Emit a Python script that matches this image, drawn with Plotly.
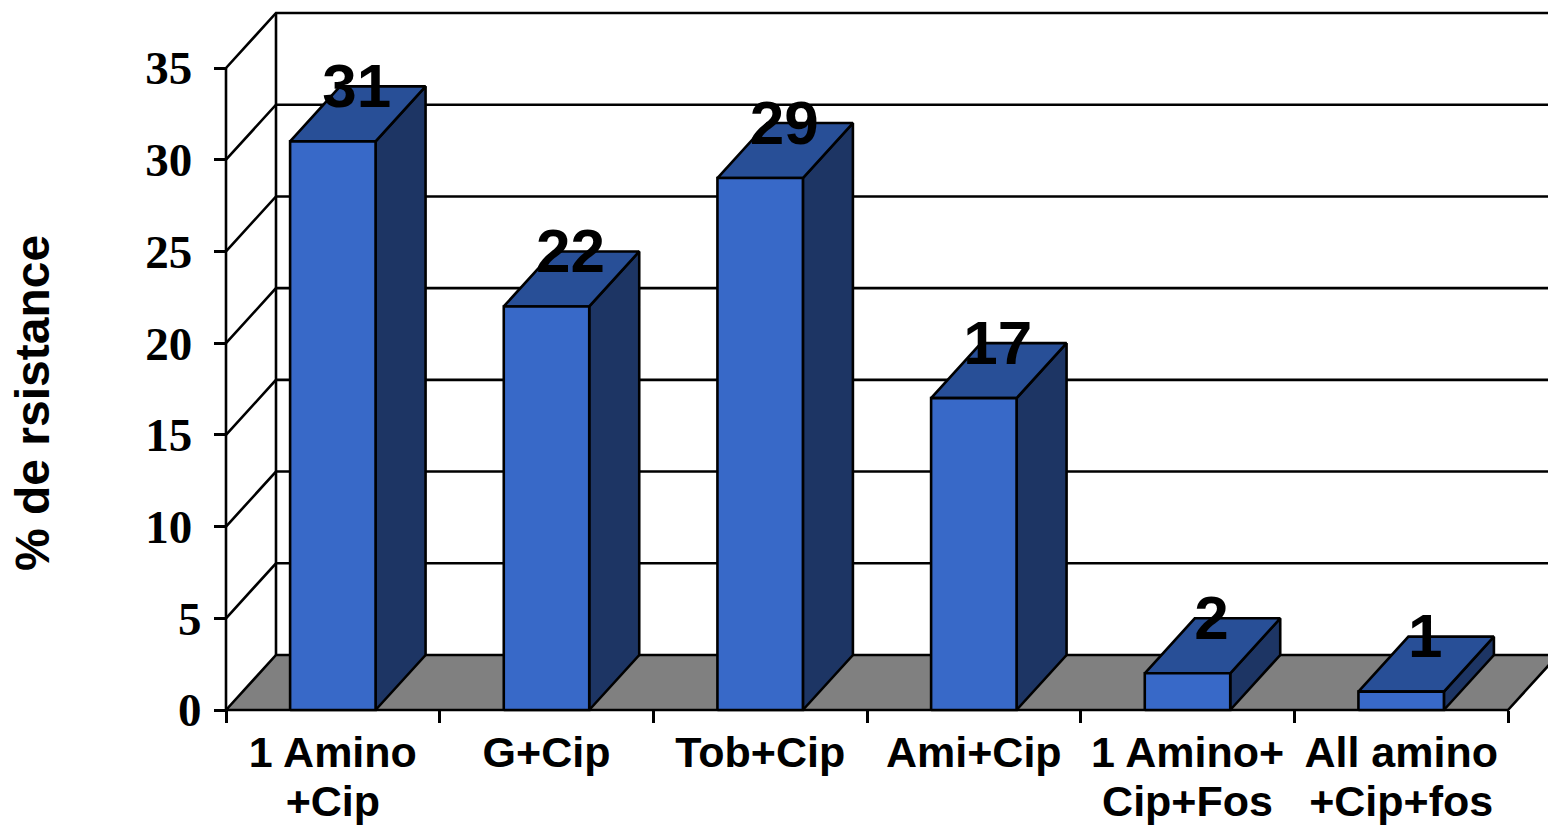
import plotly.graph_objects as go

# Chart content
line_one = ["1 Amino", "G+Cip", "Tob+Cip", "Ami+Cip", "1 Amino+", "All amino"]
line_two = ["+Cip", "", "", "", "Cip+Fos", "+Cip+fos"]
resistance = [31, 22, 29, 17, 2, 1]
value_ticks = [0, 5, 10, 15, 20, 25, 30, 35]
axis_title = "% de rsistance"

# Page geometry of the pseudo-3D plot box
WIDTH, HEIGHT = 1548, 825
LEFT_PX, BASE_PX = 226, 710
UNIT_X_PX = (1508 - 226) / 6
UNIT_Y_PX = (710 - 68) / 35
DEPTH_X = 50 / UNIT_X_PX
DEPTH_Y = 55 / UNIT_Y_PX
BAR_WIDTH = 0.40

FRONT, TOP, SIDE = "#3869C8", "#284F97", "#1D3564"
FLOOR = "#808080"
SANS = "Liberation Sans"
SERIF = "Liberation Serif"
LINE_W = 2.6
THIN_SPACE = "\u2009"

fig = go.Figure()


def polygon(xs, ys, fill=None, width=LINE_W):
    fig.add_trace(go.Scatter(
        x=xs, y=ys, mode="lines",
        fill="toself" if fill else None,
        fillcolor=fill,
        line=dict(color="black", width=width),
        hoverinfo="skip", showlegend=False,
    ))


# Back wall gridlines and the diagonals on the left wall
top_value = value_ticks[-1]
n = len(resistance)
far_right = (WIDTH - LEFT_PX) / UNIT_X_PX + 0.5
for v in value_ticks[1:]:
    polygon([0, DEPTH_X, far_right], [v, v + DEPTH_Y, v + DEPTH_Y])
polygon([0, 0], [0, top_value])
polygon([DEPTH_X, DEPTH_X], [DEPTH_Y, top_value + DEPTH_Y])

# Floor
polygon([0, n, n + DEPTH_X, DEPTH_X, 0], [0, 0, DEPTH_Y, DEPTH_Y, 0], fill=FLOOR)

# Bars: side face, top face, front face
for i, v in enumerate(resistance):
    x0 = i + 0.5 - BAR_WIDTH / 2
    x1 = i + 0.5 + BAR_WIDTH / 2
    polygon([x1, x1 + DEPTH_X, x1 + DEPTH_X, x1, x1],
            [0, DEPTH_Y, v + DEPTH_Y, v, 0], fill=SIDE)
    polygon([x0, x1, x1 + DEPTH_X, x0 + DEPTH_X, x0],
            [v, v, v + DEPTH_Y, v + DEPTH_Y, v], fill=TOP)
    polygon([x0, x1, x1, x0, x0], [0, 0, v, v, 0], fill=FRONT)

# Value labels sit over the back edge of each top face
fig.add_trace(go.Scatter(
    x=[i + 0.5 + DEPTH_X * 0.48 for i in range(n)],
    y=[v + DEPTH_Y - 5 / UNIT_Y_PX for v in resistance],
    mode="text",
    text=[str(v) for v in resistance],
    textposition="middle center",
    textfont=dict(family=SANS, size=62, color="black", weight=700),
    hoverinfo="skip", showlegend=False, cliponaxis=False,
))

# Second row of the category labels
fig.add_trace(go.Scatter(
    x=[i + 0.5 for i in range(n)],
    y=[-95 / UNIT_Y_PX] * n,
    mode="text",
    text=line_two,
    textposition="middle center",
    textfont=dict(family=SANS, size=43, color="black", weight=700),
    hoverinfo="skip", showlegend=False, cliponaxis=False,
))

fig.update_layout(
    width=WIDTH, height=HEIGHT,
    margin=dict(l=0, r=0, t=0, b=0),
    paper_bgcolor="white", plot_bgcolor="white",
    showlegend=False,
    xaxis=dict(
        range=[-LEFT_PX / UNIT_X_PX, (WIDTH - LEFT_PX) / UNIT_X_PX],
        domain=[0, 1],
        anchor="free",
        position=(HEIGHT - BASE_PX) / HEIGHT,
        showgrid=False, zeroline=False, showline=False,
        tickmode="array",
        tickvals=[i + 0.5 for i in range(n)],
        ticktext=line_one,
        ticks="",
        ticklabelstandoff=13,
        tickfont=dict(family=SANS, size=43, color="black", weight=700),
        minor=dict(
            tickmode="array",
            tickvals=list(range(n + 1)),
            ticks="outside", ticklen=12, tickwidth=LINE_W, tickcolor="black",
        ),
    ),
    yaxis=dict(
        range=[(BASE_PX - HEIGHT) / UNIT_Y_PX, BASE_PX / UNIT_Y_PX],
        domain=[0, 1],
        anchor="free",
        position=LEFT_PX / WIDTH,
        showgrid=False, zeroline=False, showline=False,
        tickmode="array",
        tickvals=value_ticks,
        # Two-digit labels stand a little further from the axis than single digits
        ticktext=[str(v) + (THIN_SPACE if v >= 10 else "") for v in value_ticks],
        ticks="outside", ticklen=12, tickwidth=LINE_W, tickcolor="black",
        ticklabelstandoff=3,
        tickfont=dict(family=SERIF, size=47, color="black", weight=700),
    ),
    annotations=[dict(
        text=axis_title,
        xref="paper", yref="paper",
        x=32 / WIDTH, y=(HEIGHT - 403) / HEIGHT,
        xanchor="center", yanchor="middle",
        textangle=-90, showarrow=False,
        font=dict(family=SANS, size=48, color="black", weight=700),
    )],
)

fig.write_html("out.html")
